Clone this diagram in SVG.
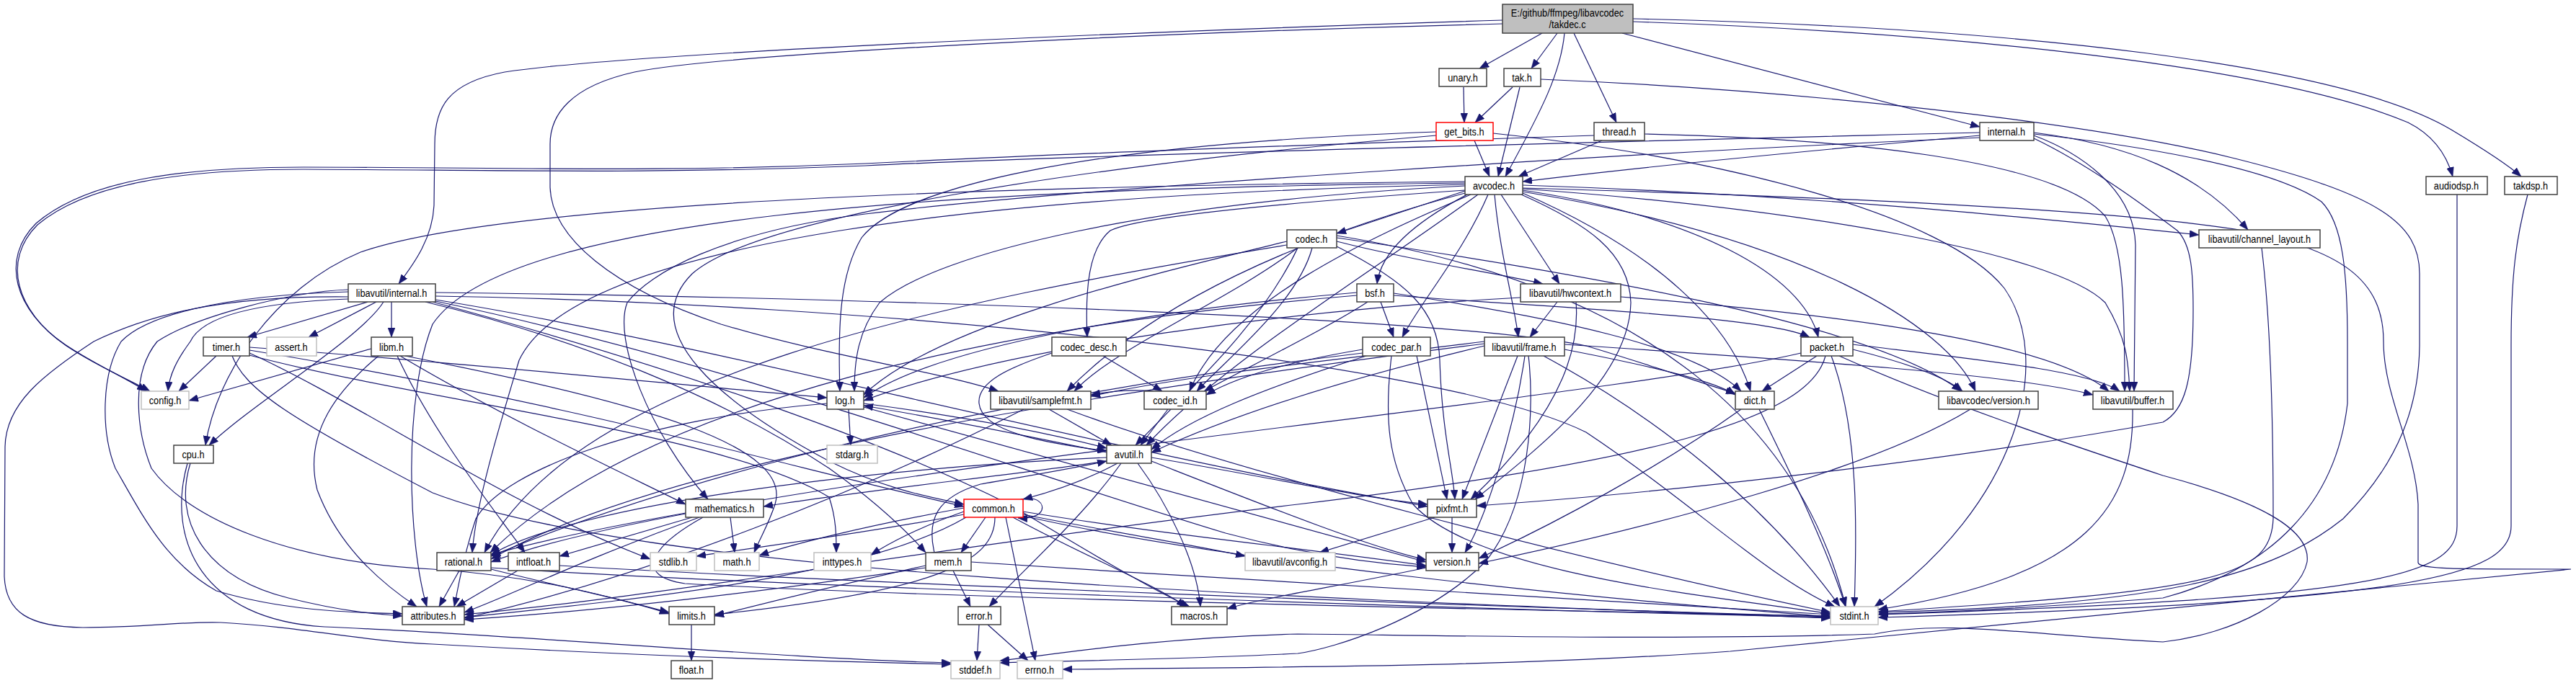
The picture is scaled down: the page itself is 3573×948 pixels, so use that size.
<svg xmlns="http://www.w3.org/2000/svg" width="3573" height="948" viewBox="0 0 3573 948">
<style>
.n rect{fill:#ffffff;stroke:#404040;stroke-width:1.5}
.g rect{stroke:#bfbfbf}
.r rect{stroke:#ff0000}
.root rect{fill:#bfbfbf}
text{font-family:"Liberation Sans",Arial,sans-serif;font-size:14.5px;text-anchor:middle;fill:#000000;transform-box:fill-box;transform-origin:center;transform:scaleX(0.88)}
#edges path{fill:none;stroke:#191970;stroke-width:1.2;marker-end:url(#a)}
</style>
<defs>
<marker id="a" markerUnits="userSpaceOnUse" markerWidth="13" markerHeight="10" refX="13" refY="5" orient="auto"><path d="M0,0 L13,5 L0,10 z" fill="#191970" stroke="#191970" stroke-width="0.5"/></marker>
</defs>
<rect x="0" y="0" width="3573" height="948" fill="#ffffff"/>
<g id="edges">
<path d="M2084,28 C1700,40 900,70 700,100 C620,115 603,150 603,200 L602,285 C600,330 575,365 553,394"/>
<path d="M2084,33 C1600,45 1000,75 880,100 C790,120 763,160 763,200 L763,260 C765,330 850,400 1000,450 C1150,495 1300,515 1385,543"/>
<path d="M2139,46 L2052,95"/>
<path d="M2160,46 L2124,95"/>
<path d="M2170,46 C2165,100 2140,150 2088,245"/>
<path d="M2183,46 L2242,170"/>
<path d="M2250,46 L2746,176"/>
<path d="M2265,30 C2700,45 3150,90 3340,170 C3380,190 3395,220 3402,245"/>
<path d="M2265,26 C2800,38 3250,90 3400,180 C3450,210 3480,230 3497,245"/>
<path d="M2030,121 L2031,170"/>
<path d="M2098,121 L2046,170"/>
<path d="M2108,121 L2078,245"/>
<path d="M2137,110 C2500,125 2900,170 3100,220 C3300,270 3356,310 3356,380 L3356,480 C3355,560 3330,640 3250,720 C3150,800 3000,840 2606,850"/>
<path d="M2045,195 L2066,245"/>
<path d="M1992,183 C1500,200 1250,260 1195,330 C1165,380 1162,450 1165,543"/>
<path d="M1992,188 C1500,230 1050,300 960,380 C880,460 1000,560 1150,640 C1230,680 1290,690 1337,700"/>
<path d="M2071,185 C2400,220 2700,300 2780,400 C2850,500 2800,700 2600,842"/>
<path d="M2222,195 L2106,245"/>
<path d="M2281,186 C2550,192 2850,220 2920,300 C2945,340 2947,420 2947,543"/>
<path d="M2211,188 C1900,198 1500,212 1200,227 C900,240 700,232 421,232 C250,232 120,250 50,310 C0,360 20,430 90,478 C130,505 170,522 203,543"/>
<path d="M2746,188 C2500,210 2250,235 2112,252"/>
<path d="M2746,184 C2300,195 1500,215 1200,230 C900,242 700,236 421,235 C250,235 120,255 52,312 C2,362 22,432 92,480 C132,507 175,525 208,543"/>
<path d="M2746,191 C2300,210 1500,260 1200,297 C1000,322 900,380 870,420 C850,470 900,600 982,693"/>
<path d="M2821,188 C2880,210 2960,260 2962,340 L2960,543"/>
<path d="M2821,184 C2950,200 3050,240 3118,319"/>
<path d="M2821,186 C2950,200 3150,230 3220,280 C3250,310 3256,380 3256,474 L3256,560 C3240,700 3150,790 3000,830 C2800,845 2700,850 2606,852"/>
<path d="M2821,192 C2900,230 2980,290 3020,320 C3040,340 3042,380 3042,430 C3042,530 3030,570 3000,586 C2700,640 2300,685 2048,702"/>
<path d="M2032,265 L1854,324"/>
<path d="M2035,270 C1960,310 1915,350 1910,394"/>
<path d="M2064,270 C2030,350 1970,420 1945,468"/>
<path d="M2073,270 C2080,350 2100,420 2106,468"/>
<path d="M2082,270 L2163,394"/>
<path d="M2110,270 C2200,310 2260,350 2262,420 C2260,520 2150,610 2046,693"/>
<path d="M2032,264 C1800,280 1580,300 1540,320 C1510,345 1505,400 1508,468"/>
<path d="M2040,270 C1900,330 1700,420 1650,543"/>
<path d="M2032,268 C1800,330 1600,420 1480,543"/>
<path d="M2050,270 C1900,380 1700,500 1590,618"/>
<path d="M2032,258 C1600,280 1300,350 1220,420 C1190,460 1185,500 1185,543"/>
<path d="M2032,256 C1400,270 800,330 720,500 C690,600 660,700 655,767"/>
<path d="M2032,254 C1300,262 700,300 600,450 C560,550 565,750 592,842"/>
<path d="M2032,252 C1400,258 700,280 500,350 C380,400 300,520 285,618"/>
<path d="M2112,262 C2500,290 2850,350 2920,420 C2950,470 2952,500 2954,543"/>
<path d="M2112,257 C2500,270 2800,300 3050,326"/>
<path d="M2112,268 C2300,350 2400,450 2428,543"/>
<path d="M2112,264 C2350,300 2500,380 2522,468"/>
<path d="M2112,266 C2500,330 2700,450 2740,543"/>
<path d="M2112,261 C2500,272 2900,288 3100,318 C3250,345 3306,390 3306,474 C3306,550 3350,620 3354,700 L3354,781 C3356,790 3400,790 3566,790 C3300,815 2800,865 2400,904 C2100,925 1800,926 1474,929"/>
<path d="M1800,344 C1750,450 1650,540 1575,618"/>
<path d="M1854,335 C1950,360 2080,380 2140,394"/>
<path d="M1785,335 C1600,380 1300,450 1198,548"/>
<path d="M1854,342 C1950,390 1995,430 1997,500 C2000,600 2015,650 2018,693"/>
<path d="M1785,340 C1300,420 800,520 672,767"/>
<path d="M1800,344 C1700,420 1550,480 1490,543"/>
<path d="M1820,344 C1800,420 1700,500 1660,543"/>
<path d="M1854,330 C2200,380 2600,450 2720,543"/>
<path d="M1854,327 C2300,400 2500,600 2560,842"/>
<path d="M1915,419 L1933,468"/>
<path d="M1897,419 C1850,450 1750,500 1670,543"/>
<path d="M1882,406 C1600,430 1300,480 1198,552"/>
<path d="M1882,410 C1400,450 900,550 680,767"/>
<path d="M1933,407 C2150,440 2350,480 2415,543"/>
<path d="M1933,410 C2200,430 2450,440 2510,468"/>
<path d="M2160,419 L2122,468"/>
<path d="M2186,419 C2190,470 2180,560 2040,693"/>
<path d="M2109,413 C1800,430 1400,480 1198,556"/>
<path d="M2248,412 C2600,440 2850,480 2925,543"/>
<path d="M1530,494 L1612,543"/>
<path d="M1459,490 C1400,510 1355,530 1358,560 C1362,600 1450,615 1535,626"/>
<path d="M1890,485 C1800,500 1720,520 1673,548"/>
<path d="M1895,494 C1750,540 1650,580 1597,624"/>
<path d="M1890,490 C1300,560 900,680 681,772"/>
<path d="M1965,494 L2007,693"/>
<path d="M1930,494 C1920,580 1925,640 1960,700 C2050,800 2400,830 2539,852"/>
<path d="M2105,494 L2028,693"/>
<path d="M2115,494 C2100,600 2060,720 2032,767"/>
<path d="M2120,494 C2128,560 2125,700 2060,780 C1980,860 1850,900 1800,907 C1650,915 1450,918 1387,920"/>
<path d="M2141,494 C2300,580 2450,700 2552,842"/>
<path d="M2170,478 C2500,500 2800,520 2903,548"/>
<path d="M2170,485 C2300,510 2380,530 2407,548"/>
<path d="M2059,480 C1850,530 1700,580 1597,628"/>
<path d="M2059,474 C1850,500 1650,520 1513,550"/>
<path d="M2059,477 C1400,560 900,650 681,776"/>
<path d="M2520,494 L2444,543"/>
<path d="M2540,494 C2580,600 2575,750 2572,842"/>
<path d="M2570,485 C2650,505 2700,525 2722,543"/>
<path d="M2570,478 C2750,500 2900,515 2940,543"/>
<path d="M2498,490 C2200,560 1000,660 681,780"/>
<path d="M2532,494 C2510,580 2300,640 1800,700 C1300,760 900,830 644,853"/>
<path d="M2551,494 C2700,560 2850,610 3000,660 C3150,700 3205,740 3200,780 C3190,830 3100,880 3000,891 C2800,880 2700,860 2600,880 C2300,890 1900,880 1800,880 C1600,885 1450,910 1387,917"/>
<path d="M2440,568 C2480,650 2530,750 2560,842"/>
<path d="M2415,568 C2300,650 2150,730 2051,775"/>
<path d="M2733,568 C2600,650 2300,730 2051,782"/>
<path d="M2958,568 C2960,700 2900,800 2605,846"/>
<path d="M3137,344 C3150,450 3153,600 3153,720 C3150,800 3080,820 2605,849"/>
<path d="M3408,270 L3408,730 C3408,800 3300,830 2605,853"/>
<path d="M3506,270 C3490,330 3483,380 3483,480 L3483,730 C3483,800 3350,835 2605,857"/>
<path d="M510,419 L343,468"/>
<path d="M522,419 L428,468"/>
<path d="M532,419 C500,470 350,560 290,618"/>
<path d="M543,419 L543,468"/>
<path d="M483,415 C350,420 280,440 264,474 C245,500 235,520 233,543"/>
<path d="M483,412 C300,410 200,440 130,474 C60,520 8,560 7,620 L6,800 C8,850 40,870 115,871 C200,871 260,862 306,864 C420,870 500,890 600,894 C800,905 1000,915 1319,922"/>
<path d="M483,405 C300,410 200,440 168,474 C140,520 140,600 160,650 C200,720 230,780 300,820 C400,850 500,850 558,852"/>
<path d="M483,402 C400,405 270,440 218,474 C180,520 190,600 210,650 C260,720 400,780 600,790 C750,800 850,830 928,850"/>
<path d="M604,406 C1200,413 2000,440 2200,480 C2300,510 2370,535 2407,546"/>
<path d="M604,411 C1200,420 2000,500 2200,600 C2350,700 2450,800 2545,842"/>
<path d="M590,419 C800,470 1000,550 1150,650 C1220,700 1260,740 1284,767"/>
<path d="M600,419 C900,500 1200,600 1400,700 C1500,760 1600,820 1650,842"/>
<path d="M604,416 C1000,480 1500,620 1980,703"/>
<path d="M604,418 C1000,500 1400,650 1700,740 C1850,780 1950,785 1978,787"/>
<path d="M300,494 L248,543"/>
<path d="M346,482 C600,500 900,530 1147,552"/>
<path d="M346,486 C800,560 1100,650 1337,703"/>
<path d="M346,490 C500,560 700,700 902,776"/>
<path d="M346,493 C600,560 1000,600 1150,690 C1160,720 1160,745 1160,767"/>
<path d="M322,494 C340,540 400,580 600,684 C900,800 1800,830 2539,858"/>
<path d="M515,484 L262,556"/>
<path d="M525,494 C470,540 420,600 440,680 C470,760 530,810 578,842"/>
<path d="M551,494 C600,600 680,700 728,767"/>
<path d="M555,494 C700,580 850,650 951,700"/>
<path d="M562,494 C900,560 1100,620 1075,700 C1065,730 1055,745 1046,767"/>
<path d="M1177,568 L1180,618"/>
<path d="M1198,560 C1350,580 1450,600 1535,622"/>
<path d="M1147,560 C900,580 700,650 660,720 C640,780 635,820 630,842"/>
<path d="M1198,565 C1500,650 1800,730 1978,780"/>
<path d="M1455,568 L1542,618"/>
<path d="M1420,568 C1200,680 900,800 644,858"/>
<path d="M1480,568 C1700,650 2200,780 2539,850"/>
<path d="M1620,568 L1582,618"/>
<path d="M1600,543 C1570,540 1540,543 1513,548"/>
<path d="M1535,628 C1400,600 1300,580 1198,563"/>
<path d="M1550,643 C1500,670 1450,685 1419,693"/>
<path d="M1555,643 C1500,720 1420,790 1372,842"/>
<path d="M1578,643 C1620,700 1660,780 1665,842"/>
<path d="M1535,640 C1400,660 1200,680 1059,703"/>
<path d="M1535,635 C1200,650 800,700 681,770"/>
<path d="M1597,635 C1750,660 1880,690 1980,700"/>
<path d="M1597,640 C1750,700 1900,760 1978,777"/>
<path d="M1013,718 L1019,767"/>
<path d="M951,712 C850,730 750,750 681,770"/>
<path d="M960,718 L776,772"/>
<path d="M970,718 C800,780 700,830 644,850"/>
<path d="M975,718 C900,760 880,800 950,810 C1300,830 2000,845 2539,855"/>
<path d="M1395,718 L1436,917"/>
<path d="M1337,710 C1280,730 1240,750 1208,770"/>
<path d="M1380,718 C1380,780 1300,820 991,853"/>
<path d="M1337,705 C1200,730 1100,755 1053,771"/>
<path d="M1337,714 C1200,740 1050,760 966,772"/>
<path d="M1340,718 C1200,800 900,830 644,857"/>
<path d="M1367,718 L1333,767"/>
<path d="M1405,718 C1500,770 1600,810 1645,842"/>
<path d="M1419,710 C1600,740 1800,760 1978,785"/>
<path d="M1419,714 C1550,740 1650,755 1727,772"/>
<path d="M1419,716 C1700,780 2200,830 2539,856"/>
<path d="M1416,693 C1440,688 1448,700 1445,708 C1442,716 1428,720 1412,719"/>
<path d="M637,792 L609,842"/>
<path d="M681,790 C780,815 880,835 928,852"/>
<path d="M681,788 C1000,810 2000,845 2539,857"/>
<path d="M718,792 L633,842"/>
<path d="M776,785 C1200,810 2000,840 2539,856"/>
<path d="M2014,718 L2014,767"/>
<path d="M1990,718 L1830,767"/>
<path d="M1978,788 C1850,815 1750,830 1702,845"/>
<path d="M1322,792 L1346,842"/>
<path d="M1296,767 C1285,720 1300,690 1360,672 C1430,660 1490,650 1535,640"/>
<path d="M1347,780 C1800,810 2300,840 2539,853"/>
<path d="M1284,785 C1150,815 1050,840 991,855"/>
<path d="M1284,788 C1000,830 800,850 644,860"/>
<path d="M1358,867 L1355,917"/>
<path d="M1370,867 L1426,917"/>
<path d="M959,867 L959,917"/>
<path d="M264,643 C240,720 280,800 400,830 C480,850 530,853 558,855"/>
<path d="M260,643 C230,750 280,860 450,870 C700,880 1100,915 1319,920"/>
</g>
<g id="n-takdec" class="n root"><rect x="2084" y="6" width="181" height="40"/><text x="2174" y="23">E:/github/ffmpeg/libavcodec</text><text x="2174" y="39">/takdec.c</text></g>
<g id="n-unary" class="n"><rect x="1996" y="95" width="66" height="25"/><text x="2029" y="113">unary.h</text></g>
<g id="n-tak" class="n"><rect x="2086" y="95" width="51" height="25"/><text x="2111" y="113">tak.h</text></g>
<g id="n-get_bits" class="n r"><rect x="1992" y="170" width="79" height="25"/><text x="2031" y="188">get_bits.h</text></g>
<g id="n-thread" class="n"><rect x="2211" y="170" width="70" height="25"/><text x="2246" y="188">thread.h</text></g>
<g id="n-internal" class="n"><rect x="2746" y="170" width="75" height="25"/><text x="2783" y="188">internal.h</text></g>
<g id="n-avcodec" class="n"><rect x="2032" y="245" width="80" height="25"/><text x="2072" y="263">avcodec.h</text></g>
<g id="n-audiodsp" class="n"><rect x="3365" y="245" width="85" height="25"/><text x="3407" y="263">audiodsp.h</text></g>
<g id="n-takdsp" class="n"><rect x="3474" y="245" width="73" height="25"/><text x="3510" y="263">takdsp.h</text></g>
<g id="n-codec" class="n"><rect x="1785" y="319" width="69" height="25"/><text x="1819" y="337">codec.h</text></g>
<g id="n-channel_layout" class="n"><rect x="3050" y="319" width="168" height="25"/><text x="3134" y="337">libavutil/channel_layout.h</text></g>
<g id="n-avutil_internal" class="n"><rect x="483" y="394" width="121" height="25"/><text x="543" y="412">libavutil/internal.h</text></g>
<g id="n-bsf" class="n"><rect x="1882" y="394" width="51" height="25"/><text x="1907" y="412">bsf.h</text></g>
<g id="n-hwcontext" class="n"><rect x="2109" y="394" width="139" height="25"/><text x="2178" y="412">libavutil/hwcontext.h</text></g>
<g id="n-timer" class="n"><rect x="282" y="468" width="64" height="26"/><text x="314" y="487">timer.h</text></g>
<g id="n-assert" class="n g"><rect x="370" y="468" width="69" height="26"/><text x="404" y="487">assert.h</text></g>
<g id="n-libm" class="n"><rect x="515" y="468" width="57" height="26"/><text x="543" y="487">libm.h</text></g>
<g id="n-codec_desc" class="n"><rect x="1459" y="468" width="103" height="26"/><text x="1510" y="487">codec_desc.h</text></g>
<g id="n-codec_par" class="n"><rect x="1890" y="468" width="94" height="26"/><text x="1937" y="487">codec_par.h</text></g>
<g id="n-frame" class="n"><rect x="2059" y="468" width="111" height="26"/><text x="2114" y="487">libavutil/frame.h</text></g>
<g id="n-packet" class="n"><rect x="2498" y="468" width="72" height="26"/><text x="2534" y="487">packet.h</text></g>
<g id="n-config" class="n g"><rect x="196" y="543" width="66" height="25"/><text x="229" y="561">config.h</text></g>
<g id="n-log" class="n"><rect x="1147" y="543" width="51" height="25"/><text x="1172" y="561">log.h</text></g>
<g id="n-samplefmt" class="n"><rect x="1374" y="543" width="139" height="25"/><text x="1443" y="561">libavutil/samplefmt.h</text></g>
<g id="n-codec_id" class="n"><rect x="1587" y="543" width="86" height="25"/><text x="1630" y="561">codec_id.h</text></g>
<g id="n-dict" class="n"><rect x="2407" y="543" width="54" height="25"/><text x="2434" y="561">dict.h</text></g>
<g id="n-avcodec_version" class="n"><rect x="2689" y="543" width="138" height="25"/><text x="2758" y="561">libavcodec/version.h</text></g>
<g id="n-buffer" class="n"><rect x="2903" y="543" width="111" height="25"/><text x="2958" y="561">libavutil/buffer.h</text></g>
<g id="n-cpu" class="n"><rect x="241" y="618" width="55" height="25"/><text x="268" y="636">cpu.h</text></g>
<g id="n-stdarg" class="n g"><rect x="1147" y="618" width="70" height="25"/><text x="1182" y="636">stdarg.h</text></g>
<g id="n-avutil" class="n"><rect x="1535" y="618" width="62" height="25"/><text x="1566" y="636">avutil.h</text></g>
<g id="n-mathematics" class="n"><rect x="951" y="693" width="108" height="25"/><text x="1005" y="711">mathematics.h</text></g>
<g id="n-common" class="n r"><rect x="1337" y="693" width="82" height="25"/><text x="1378" y="711">common.h</text></g>
<g id="n-pixfmt" class="n"><rect x="1980" y="693" width="68" height="25"/><text x="2014" y="711">pixfmt.h</text></g>
<g id="n-rational" class="n"><rect x="606" y="767" width="75" height="25"/><text x="643" y="785">rational.h</text></g>
<g id="n-intfloat" class="n"><rect x="705" y="767" width="71" height="25"/><text x="740" y="785">intfloat.h</text></g>
<g id="n-stdlib" class="n g"><rect x="902" y="767" width="64" height="25"/><text x="934" y="785">stdlib.h</text></g>
<g id="n-math" class="n g"><rect x="991" y="767" width="62" height="25"/><text x="1022" y="785">math.h</text></g>
<g id="n-inttypes" class="n g"><rect x="1129" y="767" width="79" height="25"/><text x="1168" y="785">inttypes.h</text></g>
<g id="n-mem" class="n"><rect x="1284" y="767" width="63" height="25"/><text x="1315" y="785">mem.h</text></g>
<g id="n-avconfig" class="n g"><rect x="1727" y="767" width="125" height="25"/><text x="1789" y="785">libavutil/avconfig.h</text></g>
<g id="n-version" class="n"><rect x="1978" y="767" width="73" height="25"/><text x="2014" y="785">version.h</text></g>
<g id="n-attributes" class="n"><rect x="558" y="842" width="86" height="25"/><text x="601" y="860">attributes.h</text></g>
<g id="n-limits" class="n"><rect x="928" y="842" width="63" height="25"/><text x="959" y="860">limits.h</text></g>
<g id="n-error" class="n"><rect x="1329" y="842" width="59" height="25"/><text x="1358" y="860">error.h</text></g>
<g id="n-macros" class="n"><rect x="1625" y="842" width="77" height="25"/><text x="1663" y="860">macros.h</text></g>
<g id="n-stdint" class="n g"><rect x="2539" y="842" width="66" height="25"/><text x="2572" y="860">stdint.h</text></g>
<g id="n-float" class="n"><rect x="931" y="917" width="57" height="25"/><text x="959" y="935">float.h</text></g>
<g id="n-stddef" class="n g"><rect x="1319" y="917" width="68" height="25"/><text x="1353" y="935">stddef.h</text></g>
<g id="n-errno" class="n g"><rect x="1411" y="917" width="63" height="25"/><text x="1442" y="935">errno.h</text></g>
</svg>
